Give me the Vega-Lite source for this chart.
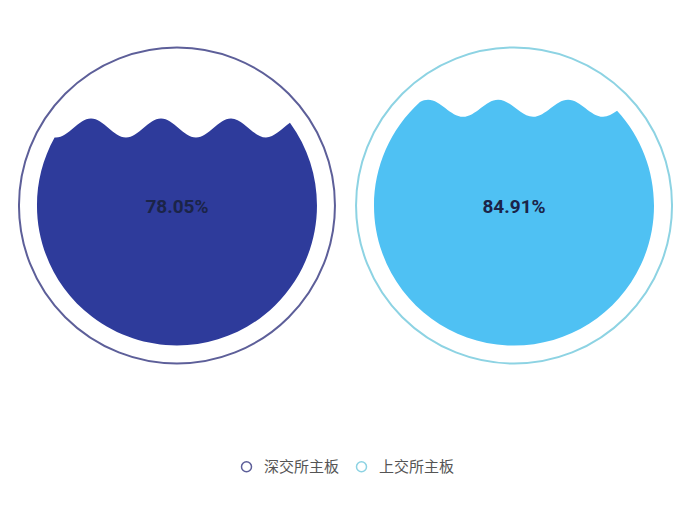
{
  "$schema": "https://vega.github.io/schema/vega-lite/v6.json",
  "width": 691,
  "height": 411,
  "padding": 0,
  "background": "white",
  "view": {"stroke": null},
  "data": {
    "values": [
      {"board": "深交所主板", "value": 0.7805},
      {"board": "上交所主板", "value": 0.8491}
    ]
  },
  "encoding": {
    "x": {
      "field": "board",
      "type": "nominal",
      "sort": ["深交所主板", "上交所主板"],
      "scale": {"type": "point", "padding": 0.525},
      "axis": null
    }
  },
  "layer": [
    {
      "mark": {"type": "point", "shape": "circle", "filled": false, "size": 99856, "strokeWidth": 2, "opacity": 1},
      "encoding": {
        "stroke": {
          "field": "board",
          "type": "nominal",
          "sort": ["深交所主板", "上交所主板"],
          "scale": {"domain": ["深交所主板", "上交所主板"], "range": ["#5d5f99", "#8dd3e3"]},
          "legend": {
            "orient": "none",
            "legendX": 239,
            "legendY": 459,
            "title": null,
            "direction": "horizontal",
            "symbolType": "circle",
            "symbolSize": 100,
            "symbolStrokeWidth": 1.5,
            "symbolFillColor": "transparent",
            "labelFont": "Noto Sans CJK SC",
            "labelFontSize": 15,
            "labelColor": "#555555",
            "labelOffset": 10,
            "columnPadding": 13,
            "encode": {
              "symbols": {
                "update": {
                  "shape": {"value": "circle"},
                  "fill": {"value": "transparent"},
                  "strokeWidth": {"value": 1.5}
                }
              }
            }
          }
        }
      }
    },
    {
      "mark": {"type": "point", "filled": true, "size": 78400, "opacity": 1, "strokeWidth": 0},
      "encoding": {
        "shape": {
          "field": "board",
          "type": "nominal",
          "scale": {
            "domain": ["深交所主板", "上交所主板"],
            "range": [
              "M-0.874,-0.486 L-0.864,-0.486 C-0.773,-0.486 -0.705,-0.622 -0.614,-0.622 C-0.523,-0.622 -0.455,-0.486 -0.364,-0.486 C-0.273,-0.486 -0.205,-0.622 -0.114,-0.622 C-0.023,-0.622 0.045,-0.486 0.136,-0.486 C0.227,-0.486 0.295,-0.622 0.386,-0.622 C0.477,-0.622 0.545,-0.486 0.636,-0.486 C0.693,-0.486 0.750,-0.550 0.807,-0.591 A1,1 0 1,1 -0.874,-0.486 Z",
              "M-0.672,-0.740 C-0.653,-0.750 -0.633,-0.756 -0.614,-0.756 C-0.523,-0.756 -0.455,-0.634 -0.364,-0.634 C-0.273,-0.634 -0.205,-0.756 -0.114,-0.756 C-0.023,-0.756 0.045,-0.634 0.136,-0.634 C0.227,-0.634 0.295,-0.756 0.386,-0.756 C0.477,-0.756 0.545,-0.634 0.636,-0.634 C0.669,-0.634 0.703,-0.652 0.736,-0.676 A1,1 0 1,1 -0.672,-0.740 Z"
            ]
          },
          "legend": null
        },
        "fill": {
          "field": "board",
          "type": "nominal",
          "scale": {"domain": ["深交所主板", "上交所主板"], "range": ["#2e3b9b", "#4fc1f3"]},
          "legend": null
        }
      }
    },
    {
      "mark": {"type": "text", "font": "Roboto", "fontWeight": "bold", "fontSize": 19, "color": "#1b2448", "baseline": "middle", "align": "center", "dy": 1},
      "encoding": {
        "text": {"field": "value", "type": "quantitative", "format": ".2%"}
      }
    }
  ],
  "resolve": {"legend": {"stroke": "independent", "fill": "independent", "shape": "independent"}}
}
